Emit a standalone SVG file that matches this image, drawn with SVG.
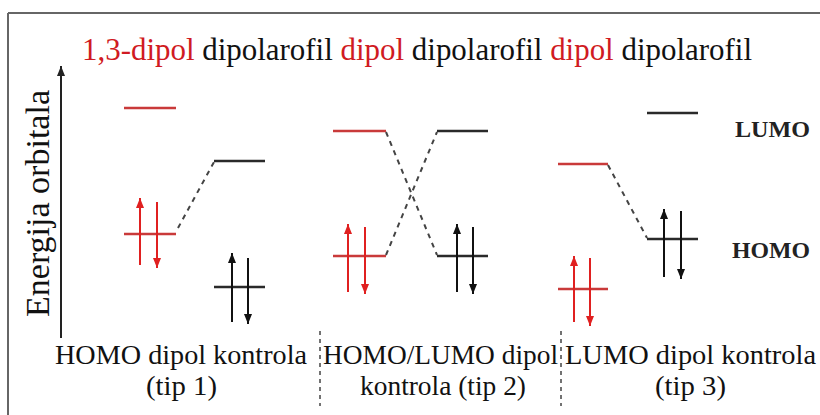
<svg xmlns="http://www.w3.org/2000/svg" width="820" height="415" viewBox="0 0 820 415">
<style>
.ttl{font-family:"Liberation Serif","Times New Roman",Times,serif;font-size:31px;}
.ax{font-family:"Liberation Serif","Times New Roman",Times,serif;font-size:33px;fill:#111;}
.red{fill:#d01a22;}
.blk{fill:#111;}
.lvr{stroke:#c93a3a;stroke-width:2.5;fill:none;}
.lvb{stroke:#2a2a2a;stroke-width:2.5;fill:none;}
.er{stroke:#e02020;stroke-width:2;fill:none;}
.eb{stroke:#111;stroke-width:2;fill:none;}
.dash{stroke:#444;stroke-width:2;stroke-dasharray:5 5;fill:none;}
.sep{stroke:#444;stroke-width:1.5;stroke-dasharray:4 4;fill:none;}
.lbl{font-family:"Liberation Serif","Times New Roman",Times,serif;font-size:28px;fill:#111;}
.ml{font-family:"Liberation Serif","Times New Roman",Times,serif;font-size:24px;font-weight:bold;fill:#222;}
</style>
<defs>
<marker id="ahr" viewBox="0 0 10 8" refX="10" refY="4" markerWidth="10" markerHeight="8" markerUnits="userSpaceOnUse" orient="auto"><path d="M0,0 L10,4 L0,8 z" fill="#e02020"/></marker>
<marker id="ahb" viewBox="0 0 10 8" refX="10" refY="4" markerWidth="10" markerHeight="8" markerUnits="userSpaceOnUse" orient="auto"><path d="M0,0 L10,4 L0,8 z" fill="#111"/></marker>
<marker id="ahx" viewBox="0 0 10 8" refX="10" refY="4" markerWidth="10" markerHeight="8" markerUnits="userSpaceOnUse" orient="auto"><path d="M0,0 L10,4 L0,8 z" fill="#222"/></marker>
</defs>
<rect width="820" height="415" fill="#fff"/>
<g id="frame">
<line x1="8" y1="13" x2="820" y2="13" stroke="#666" stroke-width="2"/>
<line x1="8" y1="13" x2="8" y2="415" stroke="#666" stroke-width="2"/>
</g>
<g id="title">
<text class="ttl" x="82" y="60" textLength="670" lengthAdjust="spacingAndGlyphs"><tspan class="red">1,3-dipol</tspan><tspan class="blk"> dipolarofil </tspan><tspan class="red">dipol</tspan><tspan class="blk"> dipolarofil </tspan><tspan class="red">dipol</tspan><tspan class="blk"> dipolarofil</tspan></text>
</g>
<g id="axis">
<line x1="61" y1="338" x2="61" y2="66" stroke="#222" stroke-width="2" marker-end="url(#ahx)"/>
<text class="ax" transform="translate(49,317) rotate(-90)" textLength="227" lengthAdjust="spacingAndGlyphs">Energija orbitala</text>
</g>
<g id="tip1-dipol">
<line class="lvr" x1="124" y1="108" x2="176" y2="108"/>
<line class="lvr" x1="124" y1="234" x2="176" y2="234"/>
<line class="er" x1="140" y1="265" x2="140" y2="198" marker-end="url(#ahr)"/>
<line class="er" x1="157" y1="202" x2="157" y2="268" marker-end="url(#ahr)"/>
</g>
<g id="tip1-dipolarofil">
<line class="lvb" x1="214" y1="161" x2="265" y2="161"/>
<line class="lvb" x1="214" y1="287" x2="265" y2="287"/>
<line class="eb" x1="232" y1="322" x2="232" y2="253" marker-end="url(#ahb)"/>
<line class="eb" x1="248" y1="258" x2="248" y2="324" marker-end="url(#ahb)"/>
</g>
<g id="tip2-dipol">
<line class="lvr" x1="333" y1="131" x2="386" y2="131"/>
<line class="lvr" x1="333" y1="256" x2="386" y2="256"/>
<line class="er" x1="348" y1="292" x2="348" y2="224" marker-end="url(#ahr)"/>
<line class="er" x1="365" y1="227" x2="365" y2="294" marker-end="url(#ahr)"/>
</g>
<g id="tip2-dipolarofil">
<line class="lvb" x1="437" y1="131" x2="488" y2="131"/>
<line class="lvb" x1="437" y1="256" x2="488" y2="256"/>
<line class="eb" x1="457" y1="292" x2="457" y2="224" marker-end="url(#ahb)"/>
<line class="eb" x1="473" y1="227" x2="473" y2="294" marker-end="url(#ahb)"/>
</g>
<g id="tip3-dipol">
<line class="lvr" x1="558" y1="164" x2="608" y2="164"/>
<line class="lvr" x1="558" y1="289" x2="608" y2="289"/>
<line class="er" x1="574" y1="322" x2="574" y2="256" marker-end="url(#ahr)"/>
<line class="er" x1="590" y1="258" x2="590" y2="326" marker-end="url(#ahr)"/>
</g>
<g id="tip3-dipolarofil">
<line class="lvb" x1="647" y1="113" x2="698" y2="113"/>
<line class="lvb" x1="647" y1="239" x2="698" y2="239"/>
<line class="eb" x1="664" y1="277" x2="664" y2="209" marker-end="url(#ahb)"/>
<line class="eb" x1="681" y1="211" x2="681" y2="279" marker-end="url(#ahb)"/>
</g>
<g id="connectors">
<line class="dash" x1="178" y1="228" x2="214" y2="162"/>
<line class="dash" x1="386" y1="132" x2="437" y2="255"/>
<line class="dash" x1="386" y1="255" x2="437" y2="132"/>
<line class="dash" x1="608" y1="165" x2="647" y2="238"/>
</g>
<g id="level-labels">
<text class="ml" x="735" y="137" textLength="75" lengthAdjust="spacingAndGlyphs">LUMO</text>
<text class="ml" x="732" y="258" textLength="78" lengthAdjust="spacingAndGlyphs">HOMO</text>
</g>
<g id="separators">
<line class="sep" x1="320" y1="331" x2="320" y2="406"/>
<line class="sep" x1="561" y1="331" x2="561" y2="406"/>
</g>
<g id="captions">
<text class="lbl" x="55" y="364" textLength="252" lengthAdjust="spacingAndGlyphs">HOMO dipol kontrola</text>
<text class="lbl" x="146" y="395" textLength="71" lengthAdjust="spacingAndGlyphs">(tip 1)</text>
<text class="lbl" x="323" y="364" textLength="235" lengthAdjust="spacingAndGlyphs">HOMO/LUMO dipol</text>
<text class="lbl" x="360" y="395" textLength="166" lengthAdjust="spacingAndGlyphs">kontrola (tip 2)</text>
<text class="lbl" x="565" y="364" textLength="251" lengthAdjust="spacingAndGlyphs">LUMO dipol kontrola</text>
<text class="lbl" x="655" y="395" textLength="71" lengthAdjust="spacingAndGlyphs">(tip 3)</text>
</g>
</svg>
